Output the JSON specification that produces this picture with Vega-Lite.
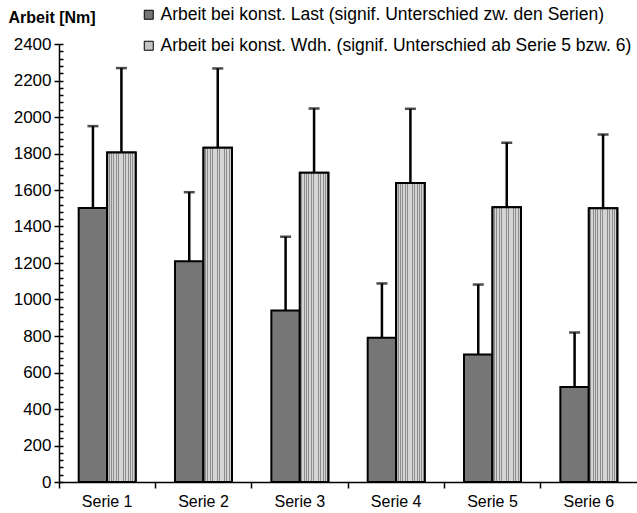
{
  "$schema": "https://vega.github.io/schema/vega-lite/v6.json",
  "width": 578,
  "height": 438,
  "autosize": {"type": "none"},
  "padding": {"left": 59, "top": 44, "right": 0, "bottom": 31},
  "background": "white",
  "config": {
    "font": "Liberation Sans",
    "view": {"stroke": null},
    "axis": {"labelFont": "Liberation Sans", "titleFont": "Liberation Sans", "domainColor": "black", "tickColor": "black", "labelColor": "black", "titleColor": "black", "grid": false, "domainWidth": 1.5, "tickWidth": 1.5},
    "legend": {"labelFont": "Liberation Sans"}
  },
  "data": {
    "values": [
      {"serie": "Serie 1", "typ": "Arbeit bei konst. Last (signif. Unterschied zw. den Serien)", "wert": 1502, "oben": 1950},
      {"serie": "Serie 1", "typ": "Arbeit bei konst. Wdh. (signif. Unterschied ab Serie 5 bzw. 6)", "wert": 1805, "oben": 2268},
      {"serie": "Serie 2", "typ": "Arbeit bei konst. Last (signif. Unterschied zw. den Serien)", "wert": 1210, "oben": 1588},
      {"serie": "Serie 2", "typ": "Arbeit bei konst. Wdh. (signif. Unterschied ab Serie 5 bzw. 6)", "wert": 1831, "oben": 2266},
      {"serie": "Serie 3", "typ": "Arbeit bei konst. Last (signif. Unterschied zw. den Serien)", "wert": 940, "oben": 1344},
      {"serie": "Serie 3", "typ": "Arbeit bei konst. Wdh. (signif. Unterschied ab Serie 5 bzw. 6)", "wert": 1694, "oben": 2047},
      {"serie": "Serie 4", "typ": "Arbeit bei konst. Last (signif. Unterschied zw. den Serien)", "wert": 790, "oben": 1088},
      {"serie": "Serie 4", "typ": "Arbeit bei konst. Wdh. (signif. Unterschied ab Serie 5 bzw. 6)", "wert": 1639, "oben": 2045},
      {"serie": "Serie 5", "typ": "Arbeit bei konst. Last (signif. Unterschied zw. den Serien)", "wert": 699, "oben": 1082},
      {"serie": "Serie 5", "typ": "Arbeit bei konst. Wdh. (signif. Unterschied ab Serie 5 bzw. 6)", "wert": 1506, "oben": 1859},
      {"serie": "Serie 6", "typ": "Arbeit bei konst. Last (signif. Unterschied zw. den Serien)", "wert": 520, "oben": 819},
      {"serie": "Serie 6", "typ": "Arbeit bei konst. Wdh. (signif. Unterschied ab Serie 5 bzw. 6)", "wert": 1500, "oben": 1904}
    ]
  },
  "encoding": {
    "x": {
      "field": "serie", "type": "nominal",
      "scale": {"paddingInner": 0, "paddingOuter": 0},
      "axis": {"title": null, "labelAngle": 0, "labelFontSize": 16, "tickSize": 6, "bandPosition": 0, "labelPadding": 5}
    },
    "xOffset": {"field": "typ", "type": "nominal", "scale": {"paddingInner": 0, "paddingOuter": 0.691}}
  },
  "layer": [
    {
      "mark": {"type": "bar", "stroke": "black", "strokeWidth": 2},
      "encoding": {
        "y": {
          "field": "wert", "type": "quantitative",
          "scale": {"domain": [0, 2400], "nice": false},
          "axis": {
            "orient": "left", "format": "d",
            "values": [0, 200, 400, 600, 800, 1000, 1200, 1400, 1600, 1800, 2000, 2200, 2400],
            "tickSize": 5, "labelFontSize": 17, "labelPadding": 3,
            "title": "Arbeit [Nm]", "titleAngle": 0, "titleAlign": "left", "titleBaseline": "alphabetic",
            "titleX": -51, "titleY": -22, "titleFontSize": 16, "titleFontWeight": "bold"
          }
        },
        "fill": {
          "field": "typ", "type": "nominal",
          "scale": {"range": ["#767676", "#c4c4c4"]},
          "legend": {
            "title": null, "orient": "none", "legendX": 81, "legendY": -38, "direction": "vertical",
            "symbolType": "square", "symbolSize": 81, "symbolStrokeColor": "black", "symbolStrokeWidth": 1,
            "labelFontSize": 17.5, "labelColor": "black", "labelLimit": 1000, "rowPadding": 12, "labelOffset": 3
          }
        }
      }
    },
    {
      "transform": [{"filter": "datum.typ === 'Arbeit bei konst. Wdh. (signif. Unterschied ab Serie 5 bzw. 6)'"}],
      "mark": {
        "type": "bar", "stroke": "black", "strokeWidth": 2,
        "fill": {
          "gradient": "linear", "x1": 0, "y1": 0, "x2": 1, "y2": 0,
          "stops": [
            {"offset": 0, "color": "#d4d4d4"}, {"offset": 0.054, "color": "#d4d4d4"}, {"offset": 0.054, "color": "#8c8c8c"}, {"offset": 0.0833, "color": "#8c8c8c"},
            {"offset": 0.0833, "color": "#d4d4d4"}, {"offset": 0.1373, "color": "#d4d4d4"}, {"offset": 0.1373, "color": "#8c8c8c"}, {"offset": 0.1667, "color": "#8c8c8c"},
            {"offset": 0.1667, "color": "#d4d4d4"}, {"offset": 0.2207, "color": "#d4d4d4"}, {"offset": 0.2207, "color": "#8c8c8c"}, {"offset": 0.25, "color": "#8c8c8c"},
            {"offset": 0.25, "color": "#d4d4d4"}, {"offset": 0.304, "color": "#d4d4d4"}, {"offset": 0.304, "color": "#8c8c8c"}, {"offset": 0.3333, "color": "#8c8c8c"},
            {"offset": 0.3333, "color": "#d4d4d4"}, {"offset": 0.3873, "color": "#d4d4d4"}, {"offset": 0.3873, "color": "#8c8c8c"}, {"offset": 0.4167, "color": "#8c8c8c"},
            {"offset": 0.4167, "color": "#d4d4d4"}, {"offset": 0.4707, "color": "#d4d4d4"}, {"offset": 0.4707, "color": "#8c8c8c"}, {"offset": 0.5, "color": "#8c8c8c"},
            {"offset": 0.5, "color": "#d4d4d4"}, {"offset": 0.554, "color": "#d4d4d4"}, {"offset": 0.554, "color": "#8c8c8c"}, {"offset": 0.5833, "color": "#8c8c8c"},
            {"offset": 0.5833, "color": "#d4d4d4"}, {"offset": 0.6373, "color": "#d4d4d4"}, {"offset": 0.6373, "color": "#8c8c8c"}, {"offset": 0.6667, "color": "#8c8c8c"},
            {"offset": 0.6667, "color": "#d4d4d4"}, {"offset": 0.7207, "color": "#d4d4d4"}, {"offset": 0.7207, "color": "#8c8c8c"}, {"offset": 0.75, "color": "#8c8c8c"},
            {"offset": 0.75, "color": "#d4d4d4"}, {"offset": 0.804, "color": "#d4d4d4"}, {"offset": 0.804, "color": "#8c8c8c"}, {"offset": 0.8333, "color": "#8c8c8c"},
            {"offset": 0.8333, "color": "#d4d4d4"}, {"offset": 0.8873, "color": "#d4d4d4"}, {"offset": 0.8873, "color": "#8c8c8c"}, {"offset": 0.9167, "color": "#8c8c8c"},
            {"offset": 0.9167, "color": "#d4d4d4"}, {"offset": 0.9707, "color": "#d4d4d4"}, {"offset": 0.9707, "color": "#8c8c8c"}, {"offset": 1, "color": "#8c8c8c"}
          ]
        }
      },
      "encoding": {"y": {"field": "wert", "type": "quantitative", "axis": null}}
    },
    {
      "mark": {"type": "rule", "strokeWidth": 2.5, "color": "black"},
      "encoding": {
        "y": {
          "field": "wert", "type": "quantitative",
          "axis": {
            "orient": "left", "title": null, "labels": false, "domain": false, "tickSize": -4,
            "values": [0, 40, 80, 120, 160, 200, 240, 280, 320, 360, 400, 440, 480, 520, 560, 600, 640, 680, 720, 760, 800, 840, 880, 920, 960, 1000, 1040, 1080, 1120, 1160, 1200, 1240, 1280, 1320, 1360, 1400, 1440, 1480, 1520, 1560, 1600, 1640, 1680, 1720, 1760, 1800, 1840, 1880, 1920, 1960, 2000, 2040, 2080, 2120, 2160, 2200, 2240, 2280, 2320, 2360, 2400]
          }
        },
        "y2": {"field": "oben"}
      }
    },
    {
      "mark": {"type": "tick", "orient": "horizontal", "size": 11, "thickness": 2.5, "color": "black"},
      "encoding": {"y": {"field": "oben", "type": "quantitative", "axis": null}}
    }
  ],
  "resolve": {"axis": {"y": "independent"}}
}
